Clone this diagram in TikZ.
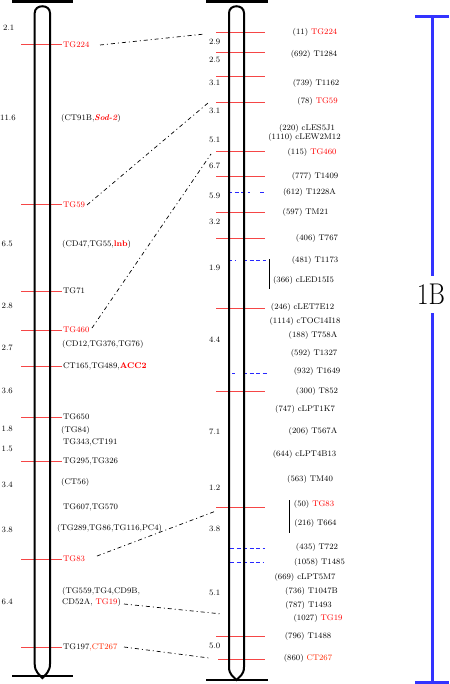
\documentclass[tikz,border=0pt]{standalone}
\usepackage{graphicx}
\definecolor{mkred}{RGB}{245,70,70}
\definecolor{txred}{RGB}{255,0,0}
\definecolor{orred}{RGB}{255,40,0}
\definecolor{scblue}{RGB}{51,51,255}
\definecolor{dblue}{RGB}{40,40,255}
\begin{document}
\begin{tikzpicture}[x=1pt,y=-1pt,
  lab/.style={font=\fontsize{8.2}{9}\selectfont, inner sep=0pt, anchor=west},
  rlab/.style={font=\fontsize{8.2}{9}\selectfont, inner sep=0pt},
  num/.style={font=\fontsize{8.2}{9}\selectfont, inner sep=0pt, anchor=west},
  mk/.style={draw=mkred, line width=1pt},
  bldash/.style={draw=dblue, line width=1pt, dash pattern=on 4pt off 2.5pt},
  chrom/.style={line width=2pt, draw=black},
  capbar/.style={line width=2.6pt, draw=black},
  conn/.style={line width=0.7pt, dash pattern=on 4pt off 3pt on 1pt off 3pt},
  scalebar/.style={draw=scblue, line width=3pt},
  bracket/.style={line width=0.8pt, draw=black}
]
\useasboundingbox (0,0) rectangle (449,684);

% ---------- left chromosome markers ----------
\foreach \yy in {45,205,291,330,366,417,461,559,647}{
  \draw[mk] (21,\yy) -- (62,\yy);
}
\draw[chrom] (34.7,664) -- (34.7,13) .. controls (34.7,4) and (50,4) .. (50,13)
  -- (50,664) .. controls (50,672) and (45,675) .. (42.4,678)
  .. controls (39.8,675) and (34.7,672) .. (34.7,664);
\draw[capbar] (12,1.3) -- (73,1.3);
\draw[capbar] (12,676) -- (73,676);

% left distances
\node[num] (ln1) at (3,28) {2.1};
\node[num] (ln2) at (0,118) {11.6};
\node[num] (ln3) at (1.5,244) {6.5};
\node[num] (ln4) at (1.5,306) {2.8};
\node[num] (ln5) at (1.5,348) {2.7};
\node[num] (ln6) at (1.5,391) {3.6};
\node[num] (ln7) at (1.5,429) {1.8};
\node[num] (ln8) at (1.5,449) {1.5};
\node[num] (ln9) at (1.5,485) {3.4};
\node[num] (ln10) at (1.5,530) {3.8};
\node[num] (ln11) at (1.5,602) {6.4};

% left labels
\node[lab, text=txred] (lTG224) at (63,45) {TG224};
\node[lab] (lCT91B) at (61,118) {(CT91B,\textcolor{txred}{\textbf{\textit{Sod-2}}})};
\node[lab, text=txred] (lTG59) at (63,205) {TG59};
\node[lab] (lCD47) at (62,244) {(CD47,TG55,\textcolor{txred}{\textbf{lnb}})};
\node[lab] (lTG71) at (63,291) {TG71};
\node[lab, text=txred] (lTG460) at (63,330) {TG460};
\node[lab] (lCD12) at (62,344) {(CD12,TG376,TG76)};
\node[lab] (lCT165) at (63,366) {CT165,TG489,\textcolor{txred}{\textbf{ACC2}}};
\node[lab] (lTG650) at (63,417) {TG650};
\node[lab] (lTG84) at (61,430) {(TG84)};
\node[lab] (lTG343) at (63,442) {TG343,CT191};
\node[lab] (lTG295) at (63,461) {TG295,TG326};
\node[lab] (lCT56) at (61,482) {(CT56)};
\node[lab] (lTG607) at (63,507) {TG607,TG570};
\node[lab] (lTG289) at (57,528) {(TG289,TG86,TG116,PC4)};
\node[lab, text=txred] (lTG83) at (63,559) {TG83};
\node[lab] (lTG559) at (62,591) {(TG559,TG4,CD9B,};
\node[lab] (lCD52A) at (62,602) {CD52A, \textcolor{txred}{TG19})};
\node[lab] (lTG197) at (63,647) {TG197\textcolor{orred}{,CT267}};

% ---------- right chromosome markers ----------
\foreach \yy in {33,53,77,103,152,177,213,239,308,391,507,636}{
  \draw[mk] (216,\yy) -- (265,\yy);
}
\draw[mk] (218,659) -- (265,659);
\draw[bldash] (228,193) -- (250,193);
\draw[bldash] (260,193) -- (266,193);
\draw[bldash] (228,260) -- (235,260);
\draw[bldash] (243,260) -- (266,260);
\draw[bldash] (232,373) -- (234.5,373);
\draw[bldash] (243,373) -- (267,373);
\draw[bldash] (230,548) -- (265,548);
\draw[bldash] (230,562) -- (263,562);

\draw[chrom] (229,667) -- (229,13) .. controls (229,4) and (244,4) .. (244,13)
  -- (244,667) .. controls (244,675) and (239,677) .. (236.5,680)
  .. controls (234,677) and (229,675) .. (229,667);
\draw[capbar] (206,1.8) -- (268,1.8);
\draw[capbar] (206,680) -- (268,680);

% right distances
\node[num] (rn1) at (209,42) {2.9};
\node[num] (rn2) at (209,60) {2.5};
\node[num] (rn3) at (209,83) {3.1};
\node[num] (rn4) at (209,111) {3.1};
\node[num] (rn5) at (209,140) {5.1};
\node[num] (rn6) at (209,166) {6.7};
\node[num] (rn7) at (209,196) {5.9};
\node[num] (rn8) at (209,222) {3.2};
\node[num] (rn9) at (209,268) {1.9};
\node[num] (rn10) at (209,340) {4.4};
\node[num] (rn11) at (209,432) {7.1};
\node[num] (rn12) at (209,488) {1.2};
\node[num] (rn13) at (209,529) {3.8};
\node[num] (rn14) at (209,593) {5.1};
\node[num] (rn15) at (209,646) {5.0};

% right labels
\node[rlab] (r1) at (315,32) {(11) \textcolor{txred}{TG224}};
\node[rlab] (r2) at (314,54) {(692) T1284};
\node[rlab] (r3) at (316,83) {(739) T1162};
\node[rlab] (r4) at (317.5,101) {(78) \textcolor{txred}{TG59}};
\node[rlab] (r5) at (307,128) {(220) cLES5J1};
\node[rlab] (r6) at (304.5,137) {(1110) cLEW2M12};
\node[rlab] (r7) at (312,152) {(115) \textcolor{txred}{TG460}};
\node[rlab] (r8) at (315,176) {(777) T1409};
\node[rlab] (r9) at (309.5,192) {(612) T1228A};
\node[rlab] (r10) at (305.5,212) {(597) TM21};
\node[rlab] (r11) at (317,238) {(406) T767};
\node[rlab] (r12) at (315,260) {(481) T1173};
\node[rlab] (r13) at (303.5,280) {(366) cLED15I5};
\node[rlab] (r14) at (302.5,307) {(246) cLET7E12};
\node[rlab] (r15) at (305,321) {(1114) cTOC14I18};
\node[rlab] (r16) at (313,335) {(188) T758A};
\node[rlab] (r17) at (314,353) {(592) T1327};
\node[rlab] (r18) at (317,371) {(932) T1649};
\node[rlab] (r19) at (317,391) {(300) T852};
\node[rlab] (r20) at (305,409) {(747) cLPT1K7};
\node[rlab] (r21) at (313,431) {(206) T567A};
\node[rlab] (r22) at (304.5,454) {(644) cLPT4B13};
\node[rlab] (r23) at (310,479) {(563) TM40};
\node[rlab] (r24) at (314,504) {(50) \textcolor{txred}{TG83}};
\node[rlab] (r25) at (315.5,523) {(216) T664};
\node[rlab] (r26) at (317,547) {(435) T722};
\node[rlab] (r27) at (319.5,562) {(1058) T1485};
\node[rlab] (r28) at (305,577) {(669) cLPT5M7};
\node[rlab] (r29) at (311.5,591) {(736) T1047B};
\node[rlab] (r30) at (308.5,605) {(787) T1493};
\node[rlab] (r31) at (318,618) {(1027) \textcolor{txred}{TG19}};
\node[rlab] (r32) at (308,636) {(796) T1488};
\node[rlab] (r33) at (308,658) {(860) \textcolor{orred}{CT267}};

% brackets
\coordinate (bA1) at (269,259); \coordinate (bA2) at (269,289);
\draw[bracket] (bA1) -- (bA2);
\coordinate (bB1) at (289,500); \coordinate (bB2) at (289,533);
\draw[bracket] (bB1) -- (bB2);

% ---------- connectors ----------
\coordinate (c1a) at (100,45);  \coordinate (c1b) at (205,34);
\coordinate (c2a) at (87,205);  \coordinate (c2b) at (208,103);
\coordinate (c3a) at (92,328);  \coordinate (c3b) at (211,154);
\coordinate (c4a) at (97,556);  \coordinate (c4b) at (216,511);
\coordinate (c5a) at (124,604); \coordinate (c5b) at (222,614);
\coordinate (c6a) at (124,647); \coordinate (c6b) at (209,658);
\draw[conn] (c1a) -- (c1b);
\draw[conn] (c2a) -- (c2b);
\draw[conn] (c3a) -- (c3b);
\draw[conn] (c4a) -- (c4b);
\draw[conn] (c5a) -- (c5b);
\draw[conn] (c6a) -- (c6b);

% ---------- scale bar ----------
\draw[scalebar] (415,16.5) -- (449,16.5);
\draw[scalebar] (432,16.5) -- (432,682);
\draw[scalebar] (415,682) -- (449,682);
\node[fill=white, inner sep=0pt, minimum width=34pt, minimum height=37pt] (oneB) at (431,294.5)
  {\scalebox{1}[1.2]{\fontsize{25}{25}\selectfont 1B}};
\end{tikzpicture}
\end{document}
